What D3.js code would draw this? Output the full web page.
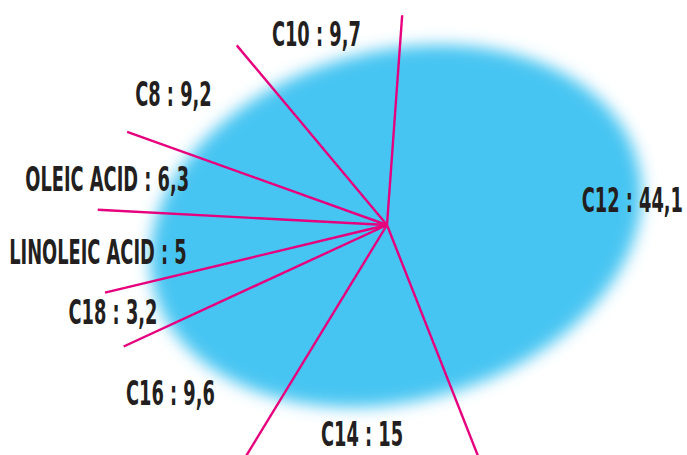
<!DOCTYPE html>
<html>
<head>
<meta charset="utf-8">
<script src="https://cdn.jsdelivr.net/npm/d3@7"></script>
<style>
  html, body { margin: 0; padding: 0; background: #ffffff; }
  svg { display: block; }
</style>
</head>
<body>
<svg id="chart" width="687" height="455"></svg>
<script>
// ---- data ----
const categories = ["C12", "C14", "C16", "C18", "LINOLEIC ACID", "OLEIC ACID", "C8", "C10"];
const values = [44.1, 15, 9.6, 3.2, 5, 6.3, 9.2, 9.7];

// ---- layout ----
const W = 687, H = 455;
const cx = 387, cy = 225;            // hub of the spokes
const blob = { cx: 396, cy: 226, rx: 250, ry: 175, rot: -15 };
const lineR = { rx: 290, up: 210, down: 290 };
const labelR = { rx: 290, up: 205, down: 240, dy: 8 };
const start = 3 * Math.PI / 180;
const fontSize = 33, squeeze = 0.6, margin = 4;

const locale = d3.formatLocale({ decimal: ",", thousands: ".", grouping: [3], currency: ["", ""] });
const fmt = locale.format("~g");

const svg = d3.select("#chart");
const defs = svg.append("defs");
defs.append("filter").attr("id", "blur")
  .attr("x", "-20%").attr("y", "-20%").attr("width", "140%").attr("height", "140%")
  .append("feGaussianBlur").attr("stdDeviation", 8);

svg.append("ellipse")
  .attr("cx", 0).attr("cy", 0).attr("rx", blob.rx).attr("ry", blob.ry)
  .attr("transform", `translate(${blob.cx},${blob.cy}) rotate(${blob.rot})`)
  .attr("fill", "#46c5f2")
  .attr("filter", "url(#blur)");

const pie = d3.pie().sort(null).value(d => d)
  .startAngle(start).endAngle(start + 2 * Math.PI);
const arcs = pie(values);

const polar = (R, a, oy = 0) => {
  const c = Math.cos(a);
  return [cx + R.rx * Math.sin(a), cy + oy - (c > 0 ? R.up : R.down) * c];
};

// spokes at each slice boundary
svg.append("g").selectAll("line").data(arcs).join("line")
  .attr("x1", cx).attr("y1", cy)
  .attr("x2", d => polar(lineR, d.startAngle)[0])
  .attr("y2", d => polar(lineR, d.startAngle)[1])
  .attr("stroke", "#e6007e")
  .attr("stroke-width", 2.4)
  .attr("stroke-linecap", "butt");

// labels
const lg = svg.append("g");
arcs.forEach((d, i) => {
  const mid = (d.startAngle + d.endAngle) / 2;
  let [x, y] = polar(labelR, mid, labelR.dy);
  const t = lg.append("text")
    .attr("font-family", "'DejaVu Sans Condensed', 'DejaVu Sans', sans-serif")
    .attr("font-weight", "bold")
    .attr("font-size", fontSize)
    .attr("fill", "#231f20")
    .attr("text-anchor", "middle")
    .text(`${categories[i]} : ${fmt(values[i])}`);
  const w = t.node().getComputedTextLength() * squeeze;
  x = Math.max(margin + w / 2, Math.min(W - margin - w / 2, x));
  let base = y + fontSize * 0.36;
  base = Math.min(H - 9, base);
  t.attr("transform", `translate(${x},${base}) scale(${squeeze},1)`);
});
</script>
</body>
</html>
